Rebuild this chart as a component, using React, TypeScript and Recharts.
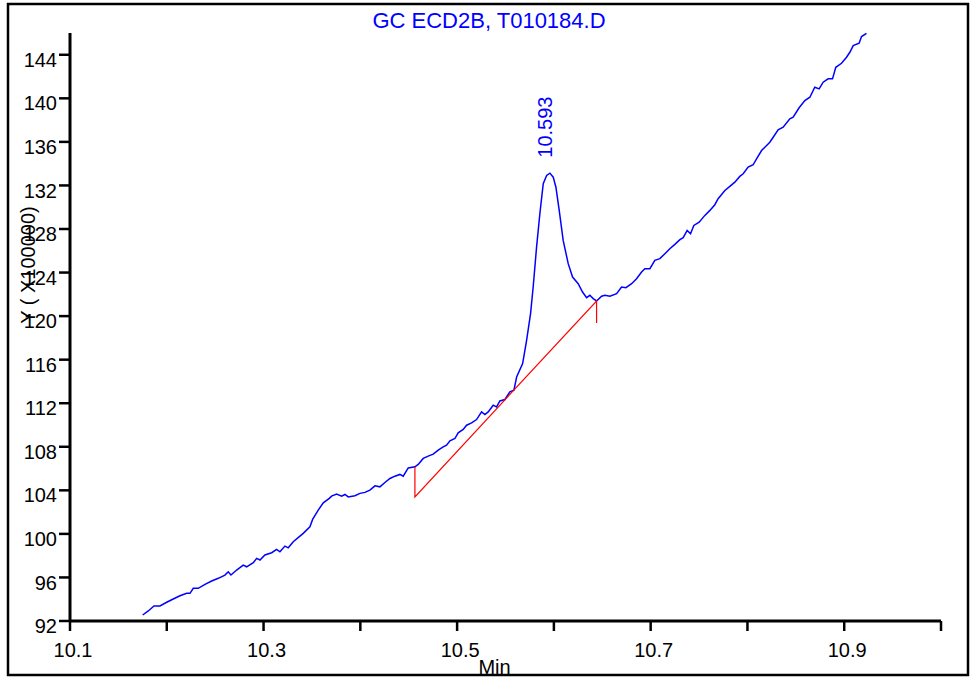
import React from 'react';
import { LineChart, Line, XAxis, YAxis, ReferenceDot, Label } from 'recharts';

const chartTitle = 'GC ECD2B, T010184.D';
const xAxisTitle = 'Min';
const yAxisTitle = 'Y ( X100000)';

const retentionTimes = [
  10.1751, 10.1809, 10.1868, 10.193, 10.1999, 10.2067, 10.2136, 10.2206, 10.224, 10.2274,
  10.2325, 10.2395, 10.2464, 10.2532, 10.2601, 10.2635, 10.2663, 10.2722, 10.279, 10.2825,
  10.2894, 10.2929, 10.2963, 10.3014, 10.3084, 10.3135, 10.3169, 10.3221, 10.3255, 10.3307,
  10.3376, 10.341, 10.3479, 10.3507, 10.3565, 10.3617, 10.3679, 10.3703, 10.3755, 10.3807,
  10.3841, 10.3875, 10.3944, 10.3996, 10.4048, 10.4099, 10.4151, 10.4202, 10.4254, 10.4306,
  10.4357, 10.4409, 10.4443, 10.4495, 10.4564, 10.4598, 10.465, 10.4701, 10.4753, 10.4805,
  10.4856, 10.4891, 10.4926, 10.4977, 10.5011, 10.5063, 10.5098, 10.515, 10.5201, 10.5253,
  10.5287, 10.5321, 10.5373, 10.5408, 10.5442, 10.5494, 10.5545, 10.5587, 10.5615, 10.5677,
  10.5718, 10.5759, 10.5786, 10.5821, 10.5855, 10.589, 10.5925, 10.5959, 10.5993, 10.6021,
  10.6055, 10.6096, 10.6148, 10.6193, 10.6251, 10.6296, 10.6338, 10.6372, 10.6406, 10.6441,
  10.6493, 10.6527, 10.6579, 10.6648, 10.6699, 10.6744, 10.6803, 10.6854, 10.6906, 10.694,
  10.6992, 10.7043, 10.7095, 10.7147, 10.7198, 10.725, 10.7302, 10.7336, 10.7377, 10.7412,
  10.7446, 10.7501, 10.756, 10.7612, 10.7663, 10.7697, 10.7767, 10.7818, 10.787, 10.7921,
  10.7956, 10.8007, 10.8059, 10.8094, 10.8146, 10.818, 10.8231, 10.8266, 10.8317, 10.8369,
  10.8438, 10.8472, 10.8534, 10.8593, 10.8645, 10.8696, 10.8741, 10.8782, 10.8834, 10.8879,
  10.8913, 10.8972, 10.9024, 10.9058, 10.9093, 10.9154, 10.9179, 10.923,
];

const signalValues = [
  92.55, 92.92, 93.38, 93.38, 93.72, 94.02, 94.32, 94.54, 94.54, 95.0,
  95.0, 95.37, 95.67, 95.92, 96.22, 96.52, 96.22, 96.68, 97.14, 96.98,
  97.35, 97.75, 97.6, 98.06, 98.27, 98.58, 98.36, 98.88, 98.72, 99.28,
  99.8, 100.05, 100.65, 101.33, 102.18, 102.85, 103.26, 103.47, 103.65, 103.47,
  103.62, 103.4, 103.5, 103.72, 103.81, 104.02, 104.41, 104.32, 104.72, 105.09,
  105.3, 105.46, 105.3, 106.06, 106.16, 106.38, 106.93, 107.14, 107.32, 107.69,
  107.99, 108.15, 108.54, 108.76, 109.28, 109.59, 109.98, 110.19, 110.5, 111.2,
  110.96, 111.2, 111.82, 111.66, 112.21, 112.34, 113.04, 113.19, 114.41, 115.64,
  117.78, 120.23, 122.67, 126.34, 129.4, 132.16, 132.92, 133.13, 132.76, 131.84,
  129.71, 126.95, 124.82, 123.59, 122.98, 122.21, 121.7, 121.91, 121.61, 121.39,
  121.82, 121.91, 121.82, 122.06, 122.67, 122.61, 122.98, 123.44, 124.05, 124.36,
  124.36, 125.12, 125.28, 125.73, 126.19, 126.59, 127.02, 127.2, 127.87, 127.57,
  128.33, 128.63, 129.25, 129.71, 130.23, 130.78, 131.54, 131.91, 132.3, 132.83,
  133.07, 133.68, 133.9, 134.45, 135.21, 135.51, 135.97, 136.43, 137.11, 137.35,
  138.12, 138.27, 139.13, 139.8, 140.1, 141.02, 140.87, 141.48, 141.79, 141.79,
  142.85, 143.22, 143.77, 144.23, 144.84, 145.06, 145.67, 145.97,
];

const baselineTimes = [10.4564, 10.4564, 10.6441, 10.6441];
const baselineValues = [106.16, 103.4, 121.39, 119.37];

const peakTime = 10.593;
const peakValue = 133.13;
const peakLabel = '10.593';

const xTicks = [10.1, 10.2, 10.3, 10.4, 10.5, 10.6, 10.7, 10.8, 10.9, 11.0];
const xTickLabels = ['10.1', '', '10.3', '', '10.5', '', '10.7', '', '10.9', ''];
const yTicks = [92, 96, 100, 104, 108, 112, 116, 120, 124, 128, 132, 136, 140, 144];

const signalData = retentionTimes.map((t, i) => ({ t, v: signalValues[i] }));
const baselineData = baselineTimes.map((t, i) => ({ t, v: baselineValues[i] }));

const FONT = '"Liberation Sans", Arial, sans-serif';

const XTick = (props: any) => {
  const { x, y, index } = props;
  const label = xTickLabels[index];
  if (!label) return <g />;
  return (
    <text x={x + 3} y={y} dy="0.71em" textAnchor="middle" fill="#000" fontSize={20} fontFamily={FONT}>
      {label}
    </text>
  );
};

const YTick = (props: any) => {
  const { x, y, payload } = props;
  return (
    <text x={x + 1} y={y + 5} dy="0.355em" textAnchor="end" fill="#000" fontSize={20} fontFamily={FONT}>
      {payload.value}
    </text>
  );
};

const PeakLabel = (props: any) => {
  const vb = props.viewBox || {};
  const cx = vb.x + (vb.width || 0) / 2 - 2;
  const cy = vb.y + (vb.height || 0) / 2 - 46;
  return (
    <text
      x={cx}
      y={cy}
      transform={`rotate(-90 ${cx} ${cy})`}
      textAnchor="middle"
      dominantBaseline="central"
      fill="#0000ff"
      fontSize={20}
      fontFamily={FONT}
    >
      {peakLabel}
    </text>
  );
};

const XTitle = (props: any) => {
  const vb = props.viewBox || {};
  return (
    <text x={vb.x + vb.width / 2 - 11} y={674} textAnchor="middle" fill="#000" fontSize={20} fontFamily={FONT}>
      {xAxisTitle}
    </text>
  );
};

const YTitle = () => {
  const cx = 28;
  const cy = 265;
  return (
    <text
      x={cx}
      y={cy}
      transform={`rotate(-90 ${cx} ${cy})`}
      textAnchor="middle"
      dominantBaseline="central"
      fill="#000"
      fontSize={20}
      fontFamily={FONT}
    >
      {yAxisTitle}
    </text>
  );
};

export default function App() {
  return (
    <div style={{ position: 'absolute', left: 0, top: 0, width: 971, height: 677, background: '#fff', overflow: 'hidden' }}>
      <LineChart width={971} height={677} margin={{ top: 33, right: 30, bottom: 0, left: 0 }}>
        <XAxis
          type="number"
          dataKey="t"
          domain={[10.1, 11.0]}
          ticks={xTicks}
          interval={0}
          height={56}
          tickSize={10}
          tickMargin={12}
          tick={<XTick />}
          axisLine={{ stroke: '#000', strokeWidth: 3 }}
          tickLine={{ stroke: '#000', strokeWidth: 2.5 }}
          allowDataOverflow
        >
          <Label content={<XTitle />} />
        </XAxis>
        <YAxis
          type="number"
          dataKey="v"
          domain={[92, 146]}
          ticks={yTicks}
          interval={0}
          width={70}
          tickSize={11}
          tickMargin={3}
          tick={<YTick />}
          axisLine={{ stroke: '#000', strokeWidth: 3 }}
          tickLine={{ stroke: '#000', strokeWidth: 2.5 }}
          allowDataOverflow
        >
          <Label content={<YTitle />} />
        </YAxis>
        <Line
          data={signalData}
          dataKey="v"
          type="linear"
          stroke="#0000ff"
          strokeWidth={1.5}
          dot={false}
          activeDot={false}
          isAnimationActive={false}
        />
        <Line
          data={baselineData}
          dataKey="v"
          type="linear"
          stroke="#ff0000"
          strokeWidth={1.2}
          dot={false}
          activeDot={false}
          isAnimationActive={false}
        />
        <ReferenceDot x={peakTime} y={peakValue} r={1} fill="none" stroke="none" label={<PeakLabel />} />
      </LineChart>
      <svg width={971} height={677} style={{ position: 'absolute', left: 0, top: 0, pointerEvents: 'none' }}>
        <text x={489} y={28} textAnchor="middle" fill="#0000ff" fontSize={22} fontFamily={FONT}>
          {chartTitle}
        </text>
        <rect x={8} y={4} width={960} height={671} fill="none" stroke="#000" strokeWidth={2.5} />
      </svg>
    </div>
  );
}
